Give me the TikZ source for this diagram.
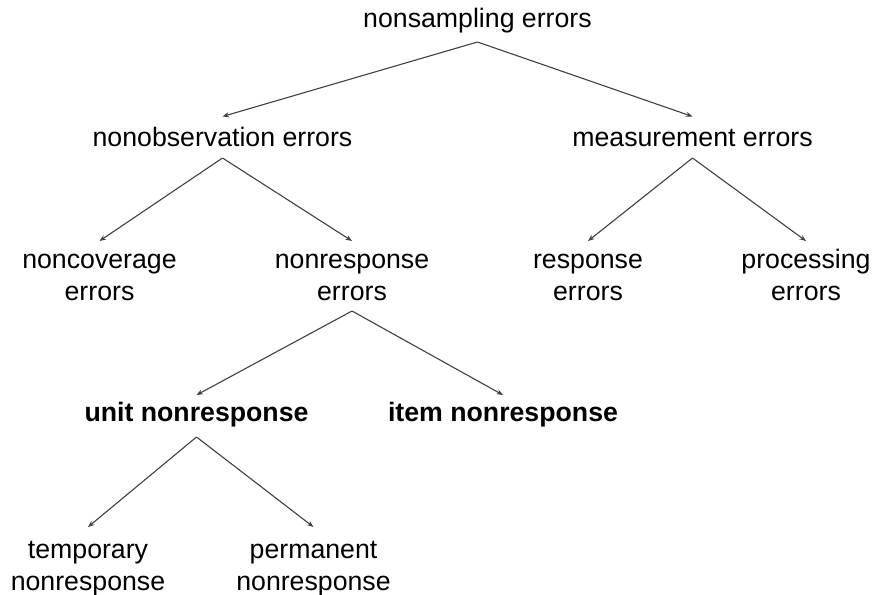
\documentclass[tikz,border=0pt]{standalone}
\usepackage{fontspec}
\setmainfont{Liberation Sans}
\usetikzlibrary{arrows.meta}
\begin{document}
\begin{tikzpicture}[x=1pt,y=-1pt,
  lbl/.style={anchor=base, align=center, inner sep=0pt,
    font=\fontsize{26.7}{31.5}\selectfont, text=black},
  boldlbl/.style={lbl, font=\fontsize{26.7}{31.5}\selectfont\bfseries},
  link/.style={draw=black!75, line width=1.1pt,
    -{Stealth[length=6.5pt,width=5pt]}}]
\useasboundingbox (0,0) rectangle (874,594);

% labels, placed on the baseline of their last line
\node[lbl] (nons)  at (477.5,28)  {nonsampling errors};
\node[lbl] (nobs)  at (222.5,146) {nonobservation errors};
\node[lbl] (meas)  at (692.5,146) {measurement errors};
\node[lbl] (ncov)  at (99.5,300)  {noncoverage\\errors};
\node[lbl] (nresp) at (352,300)   {nonresponse\\errors};
\node[lbl] (resp)  at (588,300)   {response\\errors};
\node[lbl] (proc)  at (806,300)   {processing\\errors};
\node[boldlbl] (unit) at (196.5,421) {unit nonresponse};
\node[boldlbl] (item) at (503,421)   {item nonresponse};
\node[lbl] (temp)  at (88,590)    {temporary\\nonresponse};
\node[lbl] (perm)  at (313.5,590) {permanent\\nonresponse};

% connectors
\draw[link] ([yshift=-14pt]nons.base) -- ([yshift=29.5pt]nobs.base);
\draw[link] ([yshift=-14pt]nons.base) -- ([yshift=29.5pt]meas.base);
\draw[link] ([yshift=-12pt]nobs.base) -- ([yshift=59pt]ncov.base);
\draw[link] ([yshift=-12pt]nobs.base) -- ([yshift=59pt]nresp.base);
\draw[link] ([yshift=-12pt]meas.base) -- ([yshift=59pt]resp.base);
\draw[link] ([yshift=-12pt]meas.base) -- ([yshift=59pt]proc.base);
\draw[link] ([yshift=-11pt]nresp.base) -- ([yshift=26pt]unit.base);
\draw[link] ([yshift=-11pt]nresp.base) -- ([yshift=26pt]item.base);
\draw[link] ([yshift=-16pt]unit.base) -- ([yshift=63pt]temp.base);
\draw[link] ([yshift=-16pt]unit.base) -- ([yshift=63pt]perm.base);
\end{tikzpicture}
\end{document}
